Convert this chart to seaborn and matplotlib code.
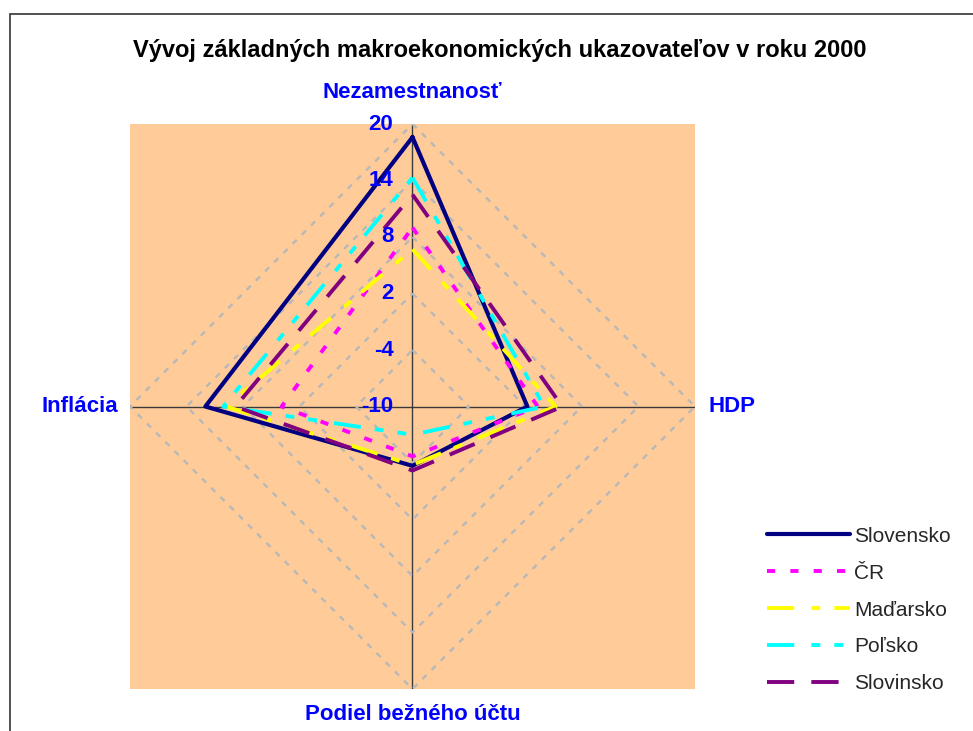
import numpy as np
import pandas as pd
import matplotlib
matplotlib.use('Agg')
import matplotlib.pyplot as plt
from matplotlib.patches import Rectangle
from matplotlib.transforms import offset_copy
import seaborn as sns

# data
categories = ['Nezamestnanosť', 'HDP', 'Podiel bežného účtu', 'Inflácia']
countries = ['Slovensko', 'ČR', 'Maďarsko', 'Poľsko', 'Slovinsko']
slovensko = [18.6, 2.2, -3.7, 12.0]
cr = [9.0, 3.3, -4.7, 3.9]
madarsko = [6.7, 5.2, -3.8, 9.8]
polsko = [14.3, 4.0, -7.0, 10.1]
slovinsko = [12.5, 5.9, -3.2, 8.8]
tick_values = [-10, -4, 2, 8, 14, 20]
tick_labels = ['-10', '-4', '2', '8', '14', '20']

colors = {'Slovensko': '#000080', 'ČR': '#FF00FF', 'Maďarsko': '#FFFF00',
          'Poľsko': '#00FFFF', 'Slovinsko': '#800080'}
dashes = {'Slovensko': '', 'ČR': (2.1, 3.9), 'Maďarsko': (7, 4.4, 2.3, 3.6),
          'Poľsko': (7, 4.4, 2.3, 3.6, 2.3, 3.6), 'Slovinsko': (7, 4.4)}

angles = np.deg2rad(np.arange(len(categories)) * 90.0)

rows = []
for name, vals in zip(countries, [slovensko, cr, madarsko, polsko, slovinsko]):
    for th, v in zip(np.append(angles, angles[0]), vals + vals[:1]):
        rows.append({'country': name, 'theta': th, 'value': v})
df = pd.DataFrame(rows)

sns.set_style('white')
plt.rcParams['font.family'] = ['Liberation Sans', 'DejaVu Sans']

fig = plt.figure(figsize=(9.73, 7.31), dpi=100)

# outer chart border (cut by the image edge on right and bottom)
fig.patches.append(Rectangle((10 / 973, -0.1), 1.2, 1.1 - 14 / 731,
                             transform=fig.transFigure, fill=False,
                             edgecolor='#333333', linewidth=1.2))

pos = [130 / 973, 42 / 731, 565 / 973, 565 / 731]
bg = fig.add_axes(pos)
bg.set_facecolor('#FFCC99')
bg.set_xticks([])
bg.set_yticks([])
for s in bg.spines.values():
    s.set_visible(False)

ax = fig.add_axes(pos, projection='polar')
ax.set_facecolor('none')
ax.set_theta_zero_location('N')
ax.set_theta_direction(-1)

# polygon gridlines
for lvl in tick_values[1:]:
    ax.plot(np.append(angles, angles[0]), [lvl] * 5, color='#B8B8B8',
            lw=1.7, dashes=(2.5, 3), zorder=1)

sns.lineplot(data=df, x='theta', y='value', hue='country', style='country',
             palette=colors, dashes=dashes, sort=False, estimator=None,
             linewidth=2.8, legend=False, ax=ax, zorder=3)

series_lines = ax.lines[-5:]
series_lines[0].set_linewidth(3.0)

ax.set_ylim(-10, 20)
ax.set_yticks([])
ax.set_xticks(angles)
ax.set_xticklabels([])
ax.xaxis.grid(True, color='#3a3a3a', linewidth=1.0)
ax.spines['polar'].set_visible(False)
ax.set_xlabel('')
ax.set_ylabel('')

# radial tick labels
for v, lab in zip(tick_values, tick_labels):
    ax.text(0, v, lab, transform=offset_copy(ax.transData, fig=fig, x=-19, y=0, units='dots'),
            ha='right', va='center', color='#0000FF', fontsize=16, fontweight='bold')

# category labels
cat_offsets = [(0, 32, 'center'), (14, 0, 'left'), (0, -26, 'center'), (-12, 0, 'right')]
for th, lab, (dx, dy, ha) in zip(angles, categories, cat_offsets):
    ax.text(th, 20, lab, transform=offset_copy(ax.transData, fig=fig, x=dx, y=dy, units='dots'),
            ha=ha, va='center', color='#0000FF', fontsize=16, fontweight='bold')

fig.text(500 / 973, 1 - 50 / 731, 'Vývoj základných makroekonomických ukazovateľov v roku 2000',
         ha='center', va='center', fontsize=17, fontweight='bold', color='black')

fig.legend(handles=series_lines, labels=countries, loc='upper left',
           bbox_to_anchor=(748 / 973, 1 - 508 / 731), frameon=False,
           fontsize=15, handlelength=4.0, handletextpad=0.2, labelspacing=0.86)

plt.savefig('out.png', dpi=100)
